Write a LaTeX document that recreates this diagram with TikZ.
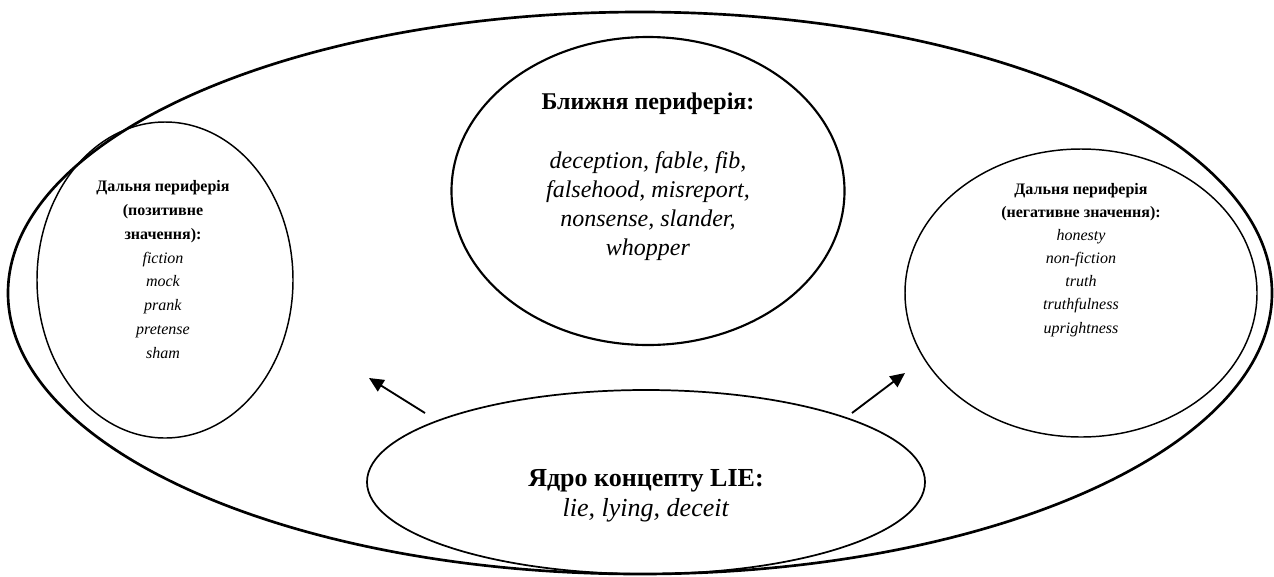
\documentclass[tikz,border=0pt]{standalone}
\usepackage{fontspec}
\setmainfont{Liberation Serif}
\usetikzlibrary{shapes.geometric,arrows.meta}
\begin{document}
\begin{tikzpicture}[x=0.75pt,y=-0.75pt,
  oval/.style={draw=black, ellipse, inner sep=0pt},
  lbl/.style={align=center, anchor=base, inner sep=0pt},
  lefttxtstyle/.style={font=\fontsize{12}{17.8}\selectfont},
  righttxtstyle/.style={font=\fontsize{12}{17.3}\selectfont},
  midtxtstyle/.style={font=\fontsize{18}{21.75}\selectfont},
  bigtxtstyle/.style={font=\fontsize{19.5}{22}\selectfont},
  arr/.style={-{Triangle[length=11pt,width=10pt]}, line width=1.4pt}]
\useasboundingbox (0,0) rectangle (1274,576);
\node[oval, line width=2pt, minimum width=948pt, minimum height=421.5pt] (outer) at (640,293) {};
\node[oval, line width=1.1pt, minimum width=192pt, minimum height=237pt] (leftc) at (165,280) {};
\node[oval, line width=1.6pt, minimum width=294.75pt, minimum height=231pt] (midc) at (648,191) {};
\node[oval, line width=1.1pt, minimum width=264pt, minimum height=216pt] (rightc) at (1081,293) {};
\node[oval, line width=1.3pt, minimum width=418.5pt, minimum height=138pt] (core) at (646,482) {};

% anchor=base of a multi-line node is the baseline of its last line
\node[lbl, lefttxtstyle] (lefttxt) at (163,358) {\textbf{Дальня периферія}\\\textbf{(позитивне}\\\textbf{значення):}\\\textit{fiction}\\\textit{mock}\\\textit{prank}\\\textit{pretense}\\\textit{sham}};
\node[lbl, midtxtstyle] (midtxt) at (648,255) {\textbf{Ближня периферія:}\\[22.5pt]\textit{deception, fable, fib,}\\\textit{falsehood, misreport,}\\\textit{nonsense, slander,}\\\textit{whopper}};
\node[lbl, righttxtstyle] (righttxt) at (1081,333) {\textbf{Дальня периферія}\\\textbf{(негативне значення):}\\\textit{honesty}\\\textit{non-fiction}\\\textit{truth}\\\textit{truthfulness}\\\textit{uprightness}};
\node[lbl, bigtxtstyle] (coretxt) at (646,516) {\textbf{Ядро концепту LIE:}\\\textit{lie, lying, deceit}};

\coordinate (a1s) at (425,413);
\coordinate (a1e) at (369,378);
\coordinate (a2s) at (852,413);
\coordinate (a2e) at (905,373);
\draw[arr] (a1s) -- (a1e);
\draw[arr] (a2s) -- (a2e);
\end{tikzpicture}
\end{document}
